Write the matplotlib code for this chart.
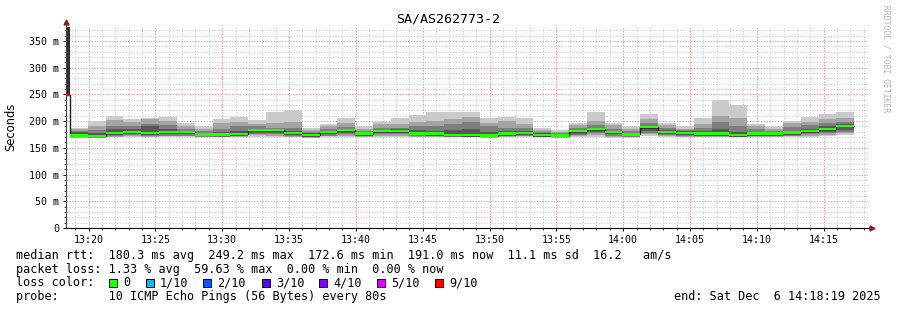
import matplotlib
matplotlib.use("Agg")
import matplotlib.pyplot as plt
from matplotlib.patches import Rectangle
from matplotlib.lines import Line2D
from matplotlib.ticker import FixedLocator, MultipleLocator, FixedFormatter

W, H = 897, 310

title = "SA/AS262773-2"
y_label = "Seconds"
watermark = "RRDTOOL / TOBI OETIKER"

x_tick_minutes = [20, 25, 30, 35, 40, 45, 50, 55, 60, 65, 70, 75]   # minutes after 13:00
x_tick_labels = ["13:20", "13:25", "13:30", "13:35", "13:40", "13:45",
                 "13:50", "13:55", "14:00", "14:05", "14:10", "14:15"]
y_ticks = [0, 50, 100, 150, 200, 250, 300, 350]
y_tick_labels = ["0", "50 m", "100 m", "150 m", "200 m", "250 m", "300 m", "350 m"]

window_start = "13:18:19"
window_end = "14:18:19"
first_step_start = "13:17:17"
step_seconds = 80

# per-step sorted ping values (ms); first step has heavy loss
p10 = [420, 188, 200, 209.6, 204, 206.5, 208, 197, 190, 204, 208,
       202, 217.7, 220.8, 188, 195, 205, 190, 199, 206.5, 211.6,
       216.7, 217.7, 217.7, 205, 208, 206.5, 188, 183.5, 197, 217.7,
       197, 190, 212.6, 197, 191, 205, 239.6, 230, 195, 190,
       200, 208, 214, 217.7]
p9 = [420, 185, 190, 202, 199, 203, 201, 190, 186, 196, 198,
      195, 196, 198, 183, 190, 197, 186, 194, 194, 198,
      200, 204, 208, 197, 200, 195, 184, 180, 192, 200,
      192, 186, 203, 192, 186, 194, 210, 205, 190, 186,
      196, 198, 203, 205]
p8 = [420, 182, 184, 191, 191, 194, 193, 185, 181, 186, 190,
      190, 188, 187, 180, 185, 189, 182, 187, 188, 190,
      190, 195, 199, 190, 187, 187, 180, 177, 187, 193,
      186, 181, 196, 187, 183, 187, 198, 190, 185, 182,
      189, 192, 196, 198]
p7 = [420, 179, 178, 185, 186, 190, 185, 182, 178, 180, 182,
      186, 186, 182, 177, 182, 186, 179, 184, 185, 183,
      181, 184, 186, 180, 181, 182, 177, 175, 184, 188,
      182, 178, 191, 183, 181, 181, 186, 180, 180, 179,
      182, 186, 190, 195]
p6 = [420, 174.5, 174, 180, 181, 180, 180.5, 180.5, 176.5, 176, 177.5,
      184.5, 184.5, 179.5, 175.5, 181, 184.5, 178, 183, 183, 178.5,
      178, 176, 175.5, 174.5, 178, 179.5, 175.5, 174.5, 182.5, 186.5,
      180.5, 176.5, 190, 181, 179.5, 178, 178, 175.5, 178, 178,
      180, 183, 186.5, 192.5]
median = [249.2, 173.0, 172.6, 178.0, 179.5, 178.0, 179.0, 179.0, 175.0, 174.6, 176.0,
          183.0, 183.0, 178.0, 174.0, 179.5, 183.0, 176.5, 181.5, 181.5, 177.0,
          176.5, 174.5, 174.0, 173.0, 176.5, 178.0, 174.0, 173.0, 181.0, 185.0,
          179.0, 175.0, 188.4, 179.5, 178.0, 176.5, 176.5, 174.0, 176.5, 176.5,
          178.5, 181.5, 185.0, 191.0]
p5 = [249.2, 171.5, 171, 176, 177.5, 175.5, 177, 177, 173, 172.5, 174,
      181, 181, 176, 172, 177.5, 181, 174.5, 179.5, 179.5, 175,
      174.5, 172.5, 172, 171.5, 174.5, 176, 172, 171.5, 179, 183,
      177, 173, 186, 177.5, 176, 174.5, 174.5, 172, 174.5, 174.5,
      176.5, 179.5, 183, 188.5]
p4 = [249.2, 170.5, 170.5, 174, 175.5, 173.5, 175, 175, 172, 171.5, 172.5,
      178.5, 178.5, 174, 171, 175, 178, 173, 177, 177, 173.5,
      173, 171.5, 171, 170.5, 173, 174, 171, 170.5, 176.5, 180,
      175, 172, 182, 175.5, 174, 173, 173, 171, 173, 173,
      174.5, 177, 180, 184]
p3 = [249.2, 170, 169.5, 172.5, 173.5, 172, 173, 173, 171, 171, 171.5,
      176, 176, 172.5, 170, 173, 175.5, 171.5, 175, 175, 172,
      172, 171, 170.5, 170, 172, 172.5, 170.5, 170, 174, 177,
      173, 170.5, 178, 174, 172.5, 172, 172, 170.5, 172, 172,
      173, 175, 177, 180]
p2 = [249.2, 169.5, 169, 171, 172, 171, 171.5, 172, 170.5, 170.5, 171,
      173.5, 173, 171, 169, 171.5, 173, 170.5, 172.5, 172.5, 171,
      171, 170.5, 170, 169.5, 171, 171.5, 170, 169.5, 172, 174,
      171, 169.5, 175, 172.5, 171, 171, 171, 170, 171, 171,
      171.5, 173, 174.5, 177]
p1 = [249.2, 169, 168, 169.5, 170, 169.5, 170, 170.5, 169.5, 169.5, 170,
      171, 170.5, 170, 167.5, 170, 171, 169.5, 170.5, 170.5, 170,
      170, 170, 169.5, 169, 170, 170.5, 169.5, 169, 170, 171,
      168, 168, 172, 171, 170, 170, 170, 169.5, 170, 170,
      170, 171, 172, 174]
loss_pct = [59.63, 0, 0, 0, 0, 0, 0, 0, 0, 0, 0,
            0, 0, 0, 0, 0, 0, 0, 0, 0, 0,
            0, 0, 0, 0, 0, 0, 0, 0, 0, 0,
            0, 0, 0, 0, 0, 0, 0, 0, 0, 0,
            0, 0, 0, 0]

loss_levels = ["0", "1/10", "2/10", "3/10", "4/10", "5/10", "9/10"]
loss_thresholds = [0, 10, 20, 30, 40, 50, 100]
loss_colors = ["#26ff00", "#00b8ff", "#0059ff", "#5e00ff", "#7e00ff", "#dd00ff", "#ff0000"]

stats_line = "median rtt:  180.3 ms avg  249.2 ms max  172.6 ms min  191.0 ms now  11.1 ms sd  16.2   am/s"
loss_line = "packet loss: 1.33 % avg  59.63 % max  0.00 % min  0.00 % now"
probe_line = "probe:       10 ICMP Echo Pings (56 Bytes) every 80s"
end_line = "end: Sat Dec  6 14:18:19 2025"


def to_min(hms):
    h, m, s = (int(v) for v in hms.split(":"))
    return (h - 13) * 60 + m + s / 60.0


def fx(px):
    return px / W


def fy(py):
    return 1 - py / H


mono = "DejaVu Sans Mono"
fig = plt.figure(figsize=(W / 100, H / 100), dpi=100)
fig.patch.set_facecolor("white")
ax = fig.add_axes([fx(66), fy(228), (868 - 66) / W, (228 - 27) / H])
ax.set_facecolor("white")

n = len(median)
step_min = step_seconds / 60.0
t0 = to_min(first_step_start)
lefts = [t0 + i * step_min for i in range(n)]
edges = lefts + [lefts[-1] + step_min]

# smoke layers: outer (lightest) to inner (darkest)
layers = [(p1, p10, "#cacaca"), (p2, p9, "#a4a4a4"), (p3, p8, "#7e7e7e"),
          (p4, p7, "#585858"), (p5, p6, "#323232")]
for lo, hi, col in layers:
    ax.bar(lefts, [h - l for l, h in zip(lo, hi)], bottom=lo, width=step_min,
           align="edge", color=col, linewidth=0, zorder=2)

# median line and loss band
ax.stairs(median, edges, baseline=None, color="#202020", linewidth=1.0, zorder=3)
band = 4.4


def loss_color(p):
    for thr, c in zip(loss_thresholds, loss_colors):
        if p <= thr:
            return c
    return loss_colors[-1]


ax.bar(lefts, [band] * n, bottom=[m - band / 2 for m in median], width=step_min,
       align="edge", color=[loss_color(p) for p in loss_pct], linewidth=0, zorder=4)

ax.set_xlim(to_min(window_start), to_min(window_end))
ax.set_ylim(0, 376)

ax.xaxis.set_major_locator(FixedLocator(x_tick_minutes))
ax.xaxis.set_major_formatter(FixedFormatter(x_tick_labels))
ax.xaxis.set_minor_locator(MultipleLocator(1))
ax.yaxis.set_major_locator(FixedLocator(y_ticks))
ax.yaxis.set_major_formatter(FixedFormatter(y_tick_labels))
ax.yaxis.set_minor_locator(MultipleLocator(10))

ax.grid(which="minor", color="#d2d2d2", linestyle=(0, (1.4, 1.4)), linewidth=0.72)
ax.grid(which="major", color="#f09a9a", linestyle=(0, (1.4, 1.4)), linewidth=0.72)
ax.set_axisbelow(True)

for s in ["top", "right"]:
    ax.spines[s].set_visible(False)
ax.spines["left"].set_color("#404040")
ax.spines["bottom"].set_color("black")
ax.spines["left"].set_linewidth(0.8)
ax.spines["bottom"].set_linewidth(0.8)

ax.tick_params(axis="both", which="major", length=2.5, width=0.7, color="black",
               labelsize=7.2, pad=2.5)
ax.tick_params(axis="both", which="minor", length=1.1, width=0.6, color="#303030")
for lab in ax.get_xticklabels() + ax.get_yticklabels():
    lab.set_family(mono)

# axis extensions with arrows
ax.add_line(Line2D([0, 0], [1, 1.027], transform=ax.transAxes, color="#404040",
                   linewidth=0.8, clip_on=False))
ax.add_line(Line2D([1, 1.004], [0, 0], transform=ax.transAxes, color="black",
                   linewidth=0.8, clip_on=False))
ax.plot([0], [1.027], marker="^", color="#8b1a1a", markersize=3.5,
        transform=ax.transAxes, clip_on=False)
ax.plot([1.0045], [0], marker=">", color="#8b1a1a", markersize=3.5,
        transform=ax.transAxes, clip_on=False)

fig.text(fx(448), fy(19), title, family=mono, size=9.6, ha="center", va="center")
fig.text(fx(11), fy(127), y_label, family="DejaVu Sans", size=8.3, rotation=90,
         ha="center", va="center")
fig.text(fx(886), fy(5), watermark, family=mono, size=5.8, rotation=270,
         ha="center", va="top", color="#b4b4b4")

fs = 8.5
fig.text(fx(16), fy(255), stats_line, family=mono, size=fs, va="center")
fig.text(fx(16), fy(269), loss_line, family=mono, size=fs, va="center")
fig.text(fx(16), fy(283), "loss color:", family=mono, size=fs, va="center")
box_x = [109, 146, 203, 262, 319, 377, 435]
for bx, lab, col in zip(box_x, loss_levels, loss_colors):
    fig.add_artist(Rectangle((fx(bx), fy(286.5)), 8 / W, 8 / H, transform=fig.transFigure,
                             facecolor=col, edgecolor="black", linewidth=0.7))
    fig.text(fx(bx + 14), fy(283), lab, family=mono, size=fs, va="center")
fig.text(fx(16), fy(296.5), probe_line, family=mono, size=fs, va="center")
fig.text(fx(881), fy(296.5), end_line, family=mono, size=fs, va="center", ha="right")

fig.savefig("out.png", dpi=100, facecolor="white")
